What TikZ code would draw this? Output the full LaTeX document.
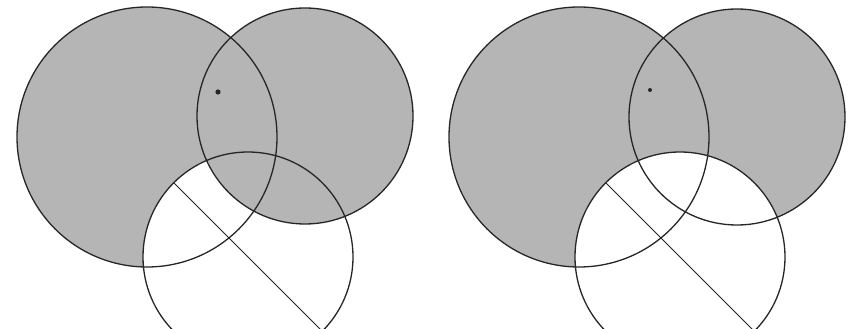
\documentclass[tikz,border=0pt]{standalone}
\usepackage{tikz}
\usetikzlibrary{calc}
\tikzset{
  stipple/.style={fill=gray!58},
  blank/.style={fill=white},
  rim/.style={draw=black!85, line width=1.3pt},
  chord/.style={draw=black!85, line width=0.9pt},
  spot/.style={fill=black!85}
}

\begin{document}
\begin{tikzpicture}[x=1pt,y=1pt]
  \useasboundingbox (0,0) rectangle (855,329);
  \clip (0,0) rectangle (855,329);
  % left panel: (A minus C) together with B
  \begin{scope}
    \coordinate (cA) at (147,192);
    \coordinate (cB) at (305,213);
    \coordinate (cC) at (248,72);
    \path[stipple] (cA) circle (130);
    \path[blank] (cC) circle (105);
    \path[stipple] (cB) circle (108);
    \draw[rim] (cA) circle (130);
    \draw[rim] (cB) circle (108);
    \draw[rim] (cC) circle (105);
    \draw[chord] (cC) ++(135:105) -- ++(-45:210);
    \fill[spot] (218,237) circle (2.6);
  \end{scope}
  % right panel: A or B, without C
  \begin{scope}[xshift=432]
    \coordinate (dA) at (147,192);
    \coordinate (dB) at (305,212);
    \coordinate (dC) at (248,72);
    \path[stipple] (dA) circle (130);
    \path[stipple] (dB) circle (108);
    \path[blank] (dC) circle (105);
    \draw[rim] (dA) circle (130);
    \draw[rim] (dB) circle (108);
    \draw[rim] (dC) circle (105);
    \draw[chord] (dC) ++(135:105) -- ++(-45:210);
    \fill[spot] (218,239) circle (2);
  \end{scope}
\end{tikzpicture}
\end{document}
